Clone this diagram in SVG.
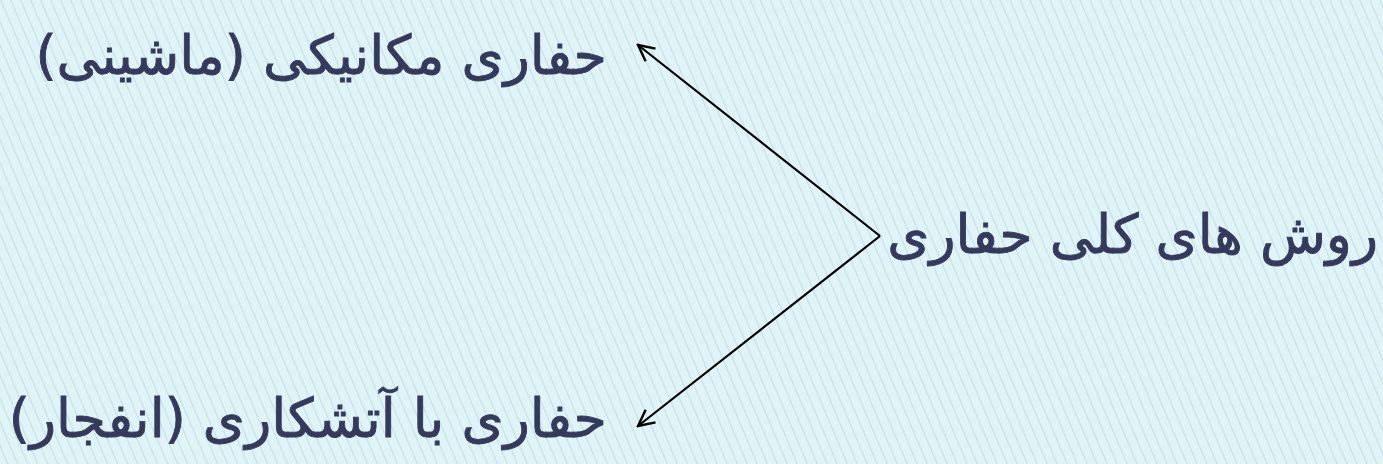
<svg xmlns="http://www.w3.org/2000/svg" width="1383" height="464" viewBox="0 0 1383 464">
<defs>
<pattern id="stripes" width="9.2" height="20" patternUnits="userSpaceOnUse" patternTransform="rotate(-23)">
<rect width="9.2" height="20" fill="#e0f4f8"/>
<rect width="1.2" height="20" fill="#c6e0e8"/>
</pattern>
<marker id="arr" viewBox="0 0 22 22" refX="20" refY="11" markerWidth="22" markerHeight="22" markerUnits="userSpaceOnUse" orient="auto">
<path d="M4,3 L20,11 L4,19" fill="none" stroke="#000" stroke-width="2.4"/>
</marker>
<style>
.t{font-family:"DejaVu Sans",sans-serif;font-size:54px;fill:#353a5c;stroke:#353a5c;stroke-width:0.9;direction:rtl;}
.c{stroke:#000;stroke-width:2.2;fill:none;marker-end:url(#arr);}
</style>
</defs>
<rect width="1383" height="464" fill="url(#stripes)"/>
<g id="connectors">
<line class="c" x1="880" y1="236" x2="638" y2="45"/>
<line class="c" x1="880" y1="236" x2="638" y2="426"/>
</g>
<g id="root"><text class="t" x="1378" y="253" direction="rtl" text-anchor="start">روش های کلی حفاری</text></g>
<g id="mechanical"><text class="t" x="607" y="74" direction="rtl" text-anchor="start">حفاری مکانیکی (ماشینی)</text></g>
<g id="blasting"><text class="t" x="607" y="437" direction="rtl" text-anchor="start">حفاری با آتشکاری (انفجار)</text></g>
</svg>
